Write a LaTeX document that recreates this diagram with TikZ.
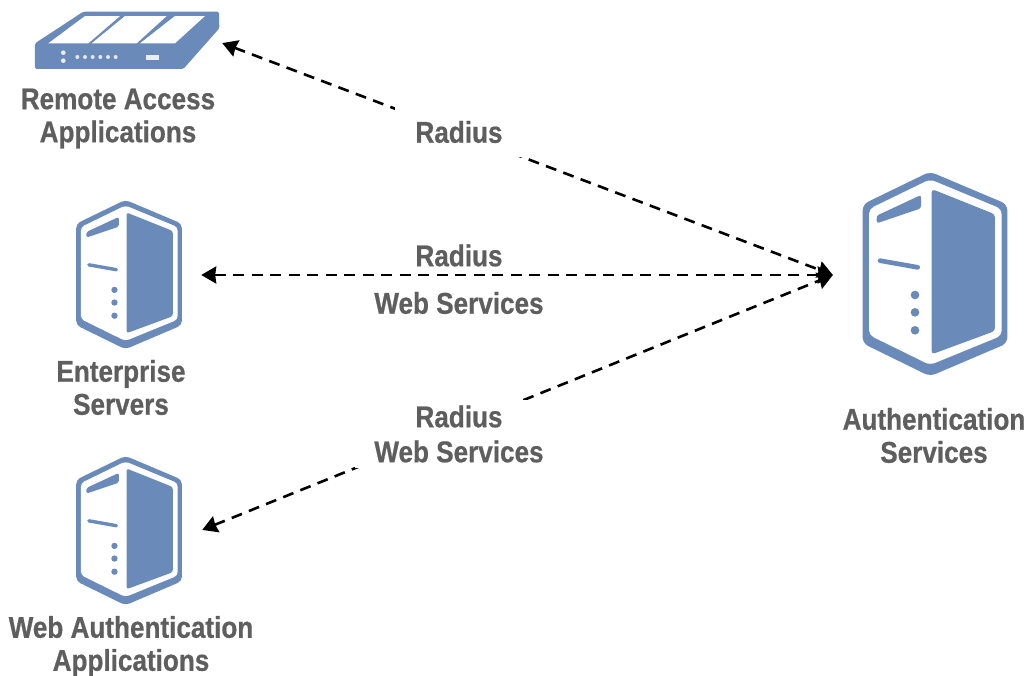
\documentclass[tikz,border=0pt]{standalone}
\usepackage{fontspec}
\setmainfont[FakeStretch=0.87,BoldFeatures={FakeBold=0.6}]{Liberation Sans}
\usetikzlibrary{arrows.meta}
\definecolor{iconblue}{HTML}{6A8AB9}
\definecolor{labelgray}{HTML}{5E5E5E}
\tikzset{
  lbl/.style={font=\fontsize{30}{33}\selectfont\bfseries, text=labelgray, align=center, inner sep=0pt},
  gaplbl/.style={lbl, fill=white},
  link/.style={draw=black, line width=2.6pt, dash pattern=on 11pt off 7.5pt,
    {Stealth[length=15pt,width=17pt,inset=1pt]}-{Stealth[length=15pt,width=17pt,inset=1pt]}},
  anchorpt/.style={inner sep=0pt, minimum size=0pt},
  pics/server/.style={code={
    \fill[iconblue, rounded corners=#1*18] (240,20) -- (472,118) -- (472,535) -- (240,634) -- (38,535) -- (38,118) -- cycle;
    \fill[white, rounded corners=#1*15] (240,43) -- (455,132) -- (455,512) -- (240,600) -- (57,510) -- (57,132) -- cycle;
    \fill[iconblue, rounded corners=#1*10] (245,72) -- (435,148) -- (435,498) -- (245,568) -- cycle;
    \fill[iconblue, rounded corners=#1*7] (80,152) -- (213,90) -- (213,130) -- (80,175) -- cycle;
    \draw[iconblue, line width=#1*14, line cap=round] (90,287) -- (203,307);
    \fill[iconblue] (195,390) circle (13) (195,442) circle (13) (195,496) circle (13);
  }}
}
\begin{document}
\begin{tikzpicture}[x=1pt,y=-1pt]
\useasboundingbox (0,0) rectangle (1028,675);
\fill[white] (0,0) rectangle (1028,675);

% router icon
\begin{scope}[shift={(20,0)}, x=0.3333pt, y=-0.3333pt]
  \fill[iconblue, rounded corners=1.5pt] (45,130) -- (190,35) -- (597,35) -- (598,85) -- (490,207) -- (45,207) -- cycle;
  \fill[white] (85,130) -- (195,48) -- (300,48) -- (205,130) -- cycle;
  \fill[white] (215,130) -- (315,48) -- (440,48) -- (350,130) -- cycle;
  \fill[white] (360,130) -- (465,48) -- (555,48) -- (465,130) -- cycle;
  \fill[white!85!iconblue] (130,158) circle (7) (130,182) circle (7);
  \foreach \i in {172,195,218,241,264,287} \fill[white!80!iconblue] (\i,171) circle (6);
  \fill[white!85!iconblue] (378,165) rectangle (418,180);
\end{scope}

% server icons
\begin{scope}[shift={(850,165)}, x=0.3333pt, y=-0.3333pt]
  \pic {server=0.3333pt};
\end{scope}
\begin{scope}[shift={(67,195)}, x=0.2433pt, y=-0.2433pt]
  \pic {server=0.2433pt};
\end{scope}
\begin{scope}[shift={(67,451)}, x=0.2433pt, y=-0.2433pt]
  \pic {server=0.2433pt};
\end{scope}

% connector ends
\node[anchorpt] (router) at (222,43) {};
\node[anchorpt] (enterprise) at (201,275) {};
\node[anchorpt] (webauth) at (202,530) {};
\node[anchorpt] (auth) at (833,275) {};

\draw[link] (router) -- (auth);
\draw[link] (enterprise) -- (auth);
\draw[link] (webauth) -- (auth);

% labels on connectors
\node[gaplbl, minimum width=128pt, minimum height=50pt] (l1) at (459,132) {Radius};
\node[lbl] (l2a) at (459,255.5) {Radius};
\node[lbl] (l2b) at (459,303) {Web Services};
\node[gaplbl, minimum width=208pt, minimum height=68pt] (l3) at (459,434) {Radius\\[2pt]Web Services};

% icon captions
\node[lbl] (c1) at (118,118.5) {Remote Access\\Applications};
\node[lbl] (c2) at (121,387.5) {Enterprise\\Servers};
\node[lbl] (c3) at (131,646.5) {Web Authentication\\Applications};
\node[lbl] (c4) at (934,435.5) {Authentication\\Services};
\end{tikzpicture}
\end{document}
